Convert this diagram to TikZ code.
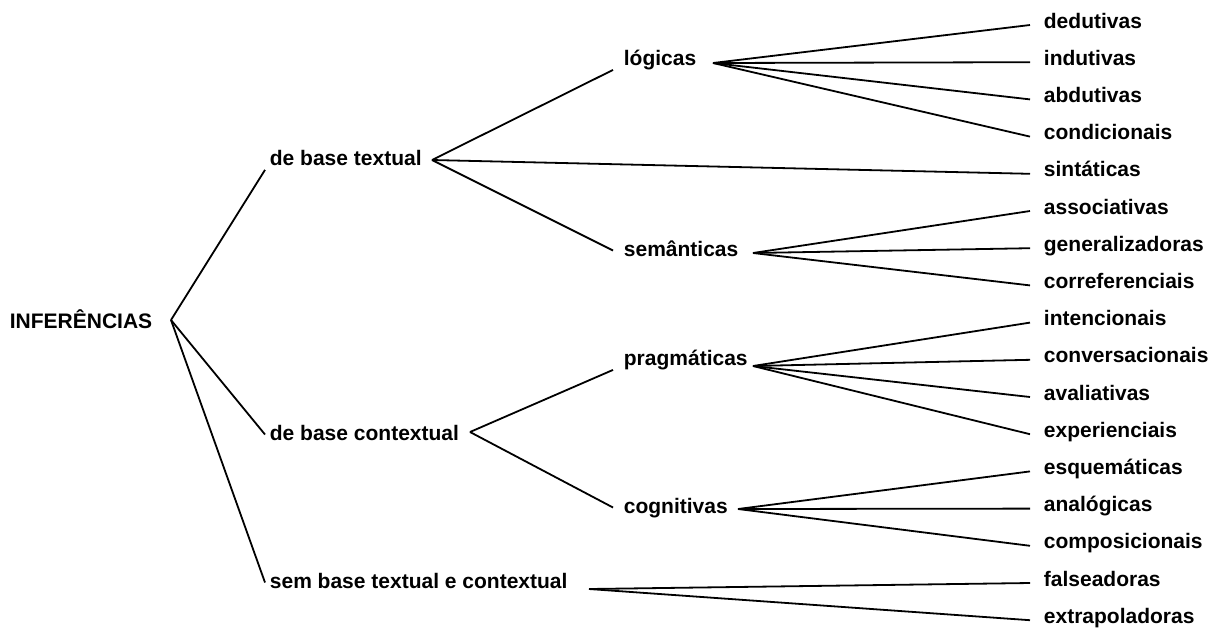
\documentclass[tikz,border=0pt]{standalone}
\usepackage{fontspec}
\setmainfont{Liberation Sans}
\usepackage{tikz}
\usetikzlibrary{calc}
\tikzset{
  rotulo/.style={font=\fontsize{21}{25}\selectfont\bfseries, anchor=base west},
  raiz/.style={rotulo, inner xsep=0pt},
  ramo/.style={rotulo, inner xsep=4pt, inner ysep=1pt, text height=14pt, text depth=3pt},
  tipo/.style={ramo, inner xsep=10pt},
  folha/.style={rotulo, inner xsep=13pt, inner ysep=0pt, text height=8pt, text depth=2pt}
}

\begin{document}
\begin{tikzpicture}[x=1pt,y=-1pt,line width=1.8pt]
  \useasboundingbox (0,0) rectangle (1220,633);
  \node[raiz] (inf) at (9,328) {INFERÊNCIAS};
  \coordinate (infJ) at (171,320);

  \node[ramo] (dbt) at (265,165) {de base textual};
  \node[ramo] (dbc) at (265,440) {de base contextual};
  \node[ramo] (sbc) at (265,588) {sem base textual e contextual};
  \coordinate (dbtJ) at (432,160);
  \coordinate (dbcJ) at (470,432);
  \coordinate (sbcJ) at (589,589);

  \node[tipo] (log) at (613,65) {lógicas};
  \node[tipo] (sem) at (613,256) {semânticas};
  \node[tipo] (pra) at (613,365) {pragmáticas};
  \node[tipo] (cog) at (613,513) {cognitivas};
  \coordinate (logJ) at (713,63);
  \coordinate (semJ) at (753,253);
  \coordinate (praJ) at (753,366);
  \coordinate (cogJ) at (738,509);

  \node[folha] (ded) at (1030,28) {dedutivas};
  \node[folha] (ind) at (1030,65.2) {indutivas};
  \node[folha] (abd) at (1030,102.4) {abdutivas};
  \node[folha] (con) at (1030,139.6) {condicionais};
  \node[folha] (sin) at (1030,176.8) {sintáticas};
  \node[folha] (ass) at (1030,214) {associativas};
  \node[folha] (gen) at (1030,251.2) {generalizadoras};
  \node[folha] (cor) at (1030,288.4) {correferenciais};
  \node[folha] (int) at (1030,325.6) {intencionais};
  \node[folha] (cvs) at (1030,362.8) {conversacionais};
  \node[folha] (ava) at (1030,400) {avaliativas};
  \node[folha] (exp) at (1030,437.2) {experienciais};
  \node[folha] (esq) at (1030,474.4) {esquemáticas};
  \node[folha] (ana) at (1030,511.6) {analógicas};
  \node[folha] (cmp) at (1030,548.8) {composicionais};
  \node[folha] (fal) at (1030,586) {falseadoras};
  \node[folha] (ext) at (1030,623.2) {extrapoladoras};

  \draw (infJ) -- (dbt.south west);
  \draw (infJ) -- (dbc.west);
  \draw (infJ) -- (sbc.west);

  \draw (dbtJ) -- (log.south west);
  \draw (dbtJ) -- (sem.west);
  \draw (dbtJ) -- (sin.west);
  \draw (dbcJ) -- (pra.south west);
  \draw (dbcJ) -- (cog.west);
  \draw (sbcJ) -- (fal.west);
  \draw (sbcJ) -- (ext.west);

  \draw (logJ) -- (ded.west);
  \draw (logJ) -- (ind.west);
  \draw (logJ) -- (abd.west);
  \draw (logJ) -- (con.west);
  \draw (semJ) -- (ass.west);
  \draw (semJ) -- (gen.west);
  \draw (semJ) -- (cor.west);
  \draw (praJ) -- (int.west);
  \draw (praJ) -- (cvs.west);
  \draw (praJ) -- (ava.west);
  \draw (praJ) -- (exp.west);
  \draw (cogJ) -- (esq.west);
  \draw (cogJ) -- (ana.west);
  \draw (cogJ) -- (cmp.west);
\end{tikzpicture}
\end{document}
